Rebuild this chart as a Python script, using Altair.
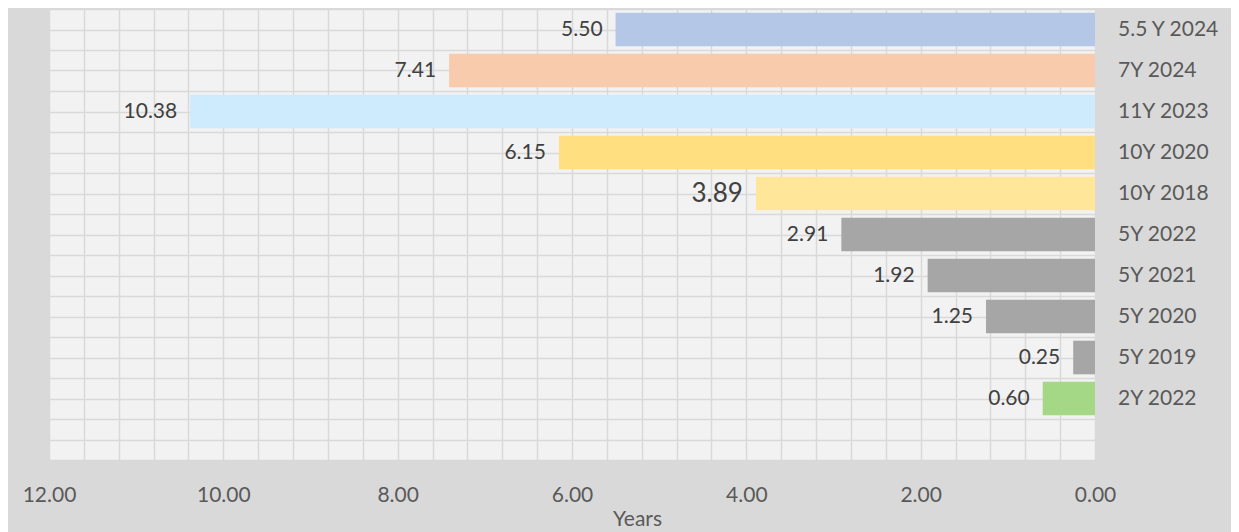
import altair as alt
import pandas as pd

categories = ["5.5 Y 2024", "7Y 2024", "11Y 2023", "10Y 2020", "10Y 2018",
              "5Y 2022", "5Y 2021", "5Y 2020", "5Y 2019", "2Y 2022"]
years = [5.50, 7.41, 10.38, 6.15, 3.89, 2.91, 1.92, 1.25, 0.25, 0.60]
colors = ["#b4c7e7", "#f8cbad", "#cdebfd", "#ffdf7f", "#ffe699",
          "#a6a6a6", "#a6a6a6", "#a6a6a6", "#a6a6a6", "#a4d886"]
label_sizes = [21, 21, 21, 21, 26, 21, 21, 21, 21, 21]

df = pd.DataFrame({
    "cat": categories,
    "years": years,
    "color": colors,
    "lsize": label_sizes,
    "idx": list(range(len(categories))),
})

W, H = 1046, 451
FONT = "Lato"

x_vals = [round(i * 0.4, 1) for i in range(31)]
y_vals = [i * 0.5 for i in range(23)]

xscale = alt.Scale(domain=[0, 12], reverse=True, nice=False, zero=True)
yscale = alt.Scale(domain=[0, 11], reverse=True, nice=False, zero=True)

xaxis = alt.Axis(values=x_vals, title="Years",
                 labelExpr="abs(datum.value/2 - round(datum.value/2)) < 0.01 ? format(datum.value, '.2f') : ''",
                 labelOverlap=False, labelFlush=False, labelBound=False,
                 ticks=False, domain=False,
                 grid=True, gridColor="#d9d9d9", gridWidth=1.5,
                 labelFontSize=21, labelColor="#595959", labelFont=FONT, labelPadding=24,
                 titleFontSize=21, titleColor="#595959", titleFont=FONT,
                 titleFontWeight="normal", titlePadding=3,
                 titleX=588, titleAlign="center")
yaxis = alt.Axis(values=y_vals, labels=False, ticks=False, domain=False, title=None,
                 labelOverlap=False,
                 grid=True, gridColor="#d9d9d9", gridWidth=1.5)

base = alt.Chart(df).transform_calculate(
    y0="datum.idx + 0.09", y1="datum.idx + 0.91", yc="datum.idx + 0.5", zero="0"
)

bars = base.mark_bar().encode(
    x=alt.X("years:Q", scale=xscale, axis=xaxis),
    x2=alt.X2("zero:Q"),
    y=alt.Y("y0:Q", scale=yscale, axis=yaxis),
    y2="y1:Q",
    color=alt.Color("color:N", scale=None),
)

vlabels = base.mark_text(align="right", baseline="middle", dx=-13, font=FONT,
                         color="#404040").encode(
    x=alt.X("years:Q", scale=xscale, axis=xaxis),
    y=alt.Y("yc:Q", scale=yscale, axis=yaxis),
    text=alt.Text("years:Q", format=".2f"),
    size=alt.Size("lsize:Q", scale=None),
)

clabels = base.mark_text(align="left", baseline="middle", dx=23, font=FONT,
                         fontSize=21, color="#595959").encode(
    x=alt.X("zero:Q", scale=xscale, axis=xaxis),
    y=alt.Y("yc:Q", scale=yscale, axis=yaxis),
    text="cat:N",
)

chart = alt.layer(bars, vlabels, clabels).properties(
    width=W, height=H,
    background="#d9d9d9",
    padding={"left": 41, "top": 1, "right": 136, "bottom": 72},
    autosize=alt.AutoSizeParams(type="none"),
).configure_view(stroke=None, fill="#f2f2f2")

chart.save("out.html", embed_options={"renderer": "svg", "actions": False})
